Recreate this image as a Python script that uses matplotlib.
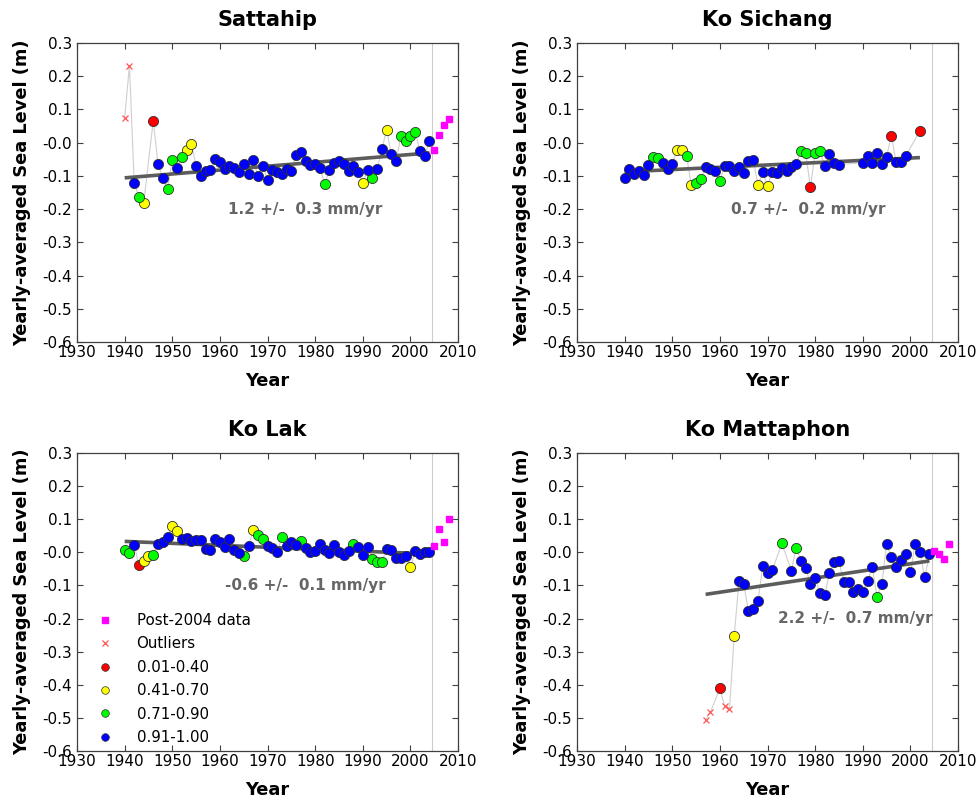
import matplotlib.pyplot as plt
from matplotlib.lines import Line2D

# class codes: x = outlier, r = 0.01-0.40, y = 0.41-0.70, g = 0.71-0.90, b = 0.91-1.00

# ---- Sattahip ----
sat_years = [1940, 1941, 1942, 1943, 1944, 1946, 1947, 1948, 1949, 1950,
             1951, 1952, 1953, 1954, 1955, 1956, 1957, 1958, 1959, 1960,
             1961, 1962, 1963, 1964, 1965, 1966, 1967, 1968, 1969, 1970,
             1971, 1972, 1973, 1974, 1975, 1976, 1977, 1978, 1979, 1980,
             1981, 1982, 1983, 1984, 1985, 1986, 1987, 1988, 1989, 1990,
             1991, 1992, 1993, 1994, 1995, 1996, 1997, 1998, 1999, 2000,
             2001, 2002, 2003, 2004]
sat_level = [0.074, 0.232, -0.120, -0.165, -0.182, 0.066, -0.064, -0.107, -0.140, -0.051,
             -0.075, -0.043, -0.021, -0.004, -0.069, -0.100, -0.085, -0.083, -0.049, -0.057,
             -0.079, -0.069, -0.076, -0.087, -0.064, -0.095, -0.051, -0.101, -0.069, -0.113,
             -0.083, -0.088, -0.095, -0.078, -0.086, -0.036, -0.027, -0.055, -0.068, -0.065,
             -0.077, -0.124, -0.083, -0.060, -0.055, -0.063, -0.084, -0.070, -0.087, -0.120,
             -0.083, -0.106, -0.080, -0.019, 0.038, -0.035, -0.056, 0.020, 0.005, 0.019,
             0.033, -0.026, -0.040, 0.005]
sat_class = "xxbgyrbbggbgyy" + "b" * 27 + "g" + "b" * 7 + "ybgbbybbggggbbb"
sat_post_years = [2005, 2006, 2007, 2008]
sat_post_level = [-0.023, 0.024, 0.054, 0.071]
sat_trend_years = [1940, 2004]
sat_trend_level = [-0.106, -0.031]

# ---- Ko Sichang ----
sic_years = [1940, 1941, 1942, 1943, 1944, 1945, 1946, 1947, 1948, 1949,
             1950, 1951, 1952, 1953, 1954, 1955, 1956, 1957, 1958, 1959,
             1960, 1961, 1962, 1963, 1964, 1965, 1966, 1967, 1968, 1969,
             1970, 1971, 1972, 1973, 1974, 1975, 1976, 1977, 1978, 1979,
             1980, 1981, 1982, 1983, 1984, 1985, 1990, 1991, 1992, 1993,
             1994, 1995, 1996, 1997, 1998, 1999, 2002]
sic_level = [-0.105, -0.079, -0.095, -0.085, -0.098, -0.067, -0.043, -0.046, -0.060, -0.080,
             -0.063, -0.023, -0.021, -0.040, -0.127, -0.121, -0.109, -0.074, -0.080, -0.084,
             -0.114, -0.070, -0.071, -0.086, -0.074, -0.090, -0.056, -0.051, -0.129, -0.089,
             -0.130, -0.088, -0.092, -0.076, -0.086, -0.074, -0.065, -0.026, -0.031, -0.134,
             -0.031, -0.025, -0.070, -0.033, -0.062, -0.066, -0.060, -0.041, -0.060, -0.032,
             -0.064, -0.042, 0.021, -0.059, -0.059, -0.041, 0.036]
sic_class = "bbbbbbggbbbyygyggbbbgbbbbbbbybybbbbbbggrggbbbbbbbbbbrbbbr"
sic_post_years = []
sic_post_level = []
sic_trend_years = [1940, 2002]
sic_trend_level = [-0.088, -0.045]

# ---- Ko Lak ----
lak_years = list(range(1940, 2005))
lak_level = [0.007, -0.003, 0.022, -0.039, -0.025, -0.012, -0.007, 0.026, 0.031, 0.045,
             0.080, 0.065, 0.039, 0.042, 0.035, 0.036, 0.038, 0.010, 0.007, 0.039,
             0.030, 0.016, 0.039, 0.007, -0.002, -0.012, 0.019, 0.067, 0.051, 0.041,
             0.019, 0.013, 0.000, 0.045, 0.019, 0.030, 0.021, 0.035, 0.012, 0.000,
             0.003, 0.024, 0.007, -0.003, 0.021, 0.000, -0.008, 0.004, 0.026, 0.017,
             -0.009, 0.016, -0.019, -0.029, -0.028, 0.009, 0.008, -0.017, -0.017, -0.012,
             -0.045, 0.004, -0.005, 0.001, 0.000]
lak_class = ("ggbryygbbbyy" + "b" * 13 + "gbyggbbbgbbbg" + "b" * 10 + "gbbbggg"
             + "b" * 5 + "y" + "b" * 4)
lak_post_years = [2005, 2006, 2007, 2008]
lak_post_level = [0.018, 0.071, 0.031, 0.101]
lak_trend_years = [1940, 2004]
lak_trend_level = [0.033, -0.005]

# ---- Ko Mattaphon ----
mat_years = [1957, 1958, 1960, 1961, 1962, 1963, 1964, 1965, 1966, 1967,
             1968, 1969, 1970, 1971, 1973, 1975, 1976, 1977, 1978, 1979,
             1980, 1981, 1982, 1983, 1984, 1985, 1986, 1987, 1988, 1989,
             1990, 1991, 1992, 1993, 1994, 1995, 1996, 1997, 1998, 1999,
             2000, 2001, 2002, 2003, 2004]
mat_level = [-0.506, -0.483, -0.411, -0.465, -0.474, -0.254, -0.087, -0.097, -0.177, -0.172,
             -0.147, -0.041, -0.063, -0.054, 0.027, -0.055, 0.014, -0.025, -0.046, -0.095,
             -0.077, -0.124, -0.130, -0.063, -0.030, -0.027, -0.090, -0.090, -0.119, -0.111,
             -0.119, -0.086, -0.044, -0.135, -0.096, 0.025, -0.014, -0.044, -0.022, -0.004,
             -0.060, 0.025, 0.000, -0.076, -0.006]
mat_class = "xxrxxy" + "b" * 8 + "gbg" + "b" * 16 + "g" + "b" * 11
mat_post_years = [2005, 2006, 2007, 2008]
mat_post_level = [0.004, -0.004, -0.021, 0.024]
mat_trend_years = [1957, 2004]
mat_trend_level = [-0.127, -0.026]

stations = [
    ("Sattahip", sat_years, sat_level, sat_class, sat_post_years, sat_post_level,
     sat_trend_years, sat_trend_level, "1.2 +/-  0.3 mm/yr", (1978, -0.20)),
    ("Ko Sichang", sic_years, sic_level, sic_class, sic_post_years, sic_post_level,
     sic_trend_years, sic_trend_level, "0.7 +/-  0.2 mm/yr", (1978.5, -0.20)),
    ("Ko Lak", lak_years, lak_level, lak_class, lak_post_years, lak_post_level,
     lak_trend_years, lak_trend_level, "-0.6 +/-  0.1 mm/yr", (1978, -0.10)),
    ("Ko Mattaphon", mat_years, mat_level, mat_class, mat_post_years, mat_post_level,
     mat_trend_years, mat_trend_level, "2.2 +/-  0.7 mm/yr", (1988.4, -0.20)),
]

class_colors = {"r": "#ff0000", "y": "#ffff00", "g": "#00ff00", "b": "#0000ff"}
class_labels = {"r": "0.01-0.40", "y": "0.41-0.70", "g": "0.71-0.90", "b": "0.91-1.00"}

x_ticks = [1930, 1940, 1950, 1960, 1970, 1980, 1990, 2000, 2010]
y_ticks = [0.3, 0.2, 0.1, 0.0, -0.1, -0.2, -0.3, -0.4, -0.5, -0.6]
y_ticklabels = ["0.3", "0.2", "0.1", "-0.0", "-0.1", "-0.2", "-0.3", "-0.4", "-0.5", "-0.6"]

plt.rcParams['font.family'] = 'DejaVu Sans'
fig = plt.figure(figsize=(9.79, 8.05), dpi=100)
positions = [
    [0.0787, 0.5752, 0.3892, 0.3714],
    [0.5894, 0.5752, 0.3892, 0.3714],
    [0.0787, 0.0671, 0.3892, 0.3702],
    [0.5894, 0.0671, 0.3892, 0.3702],
]

for i, (name, yrs, lev, cls, pyrs, plev, tyrs, tlev, rate, tpos) in enumerate(stations):
    ax = fig.add_axes(positions[i])

    # thin connecting line through the yearly values
    ax.plot(yrs, lev, color="#cfcfcf", lw=0.8, zorder=1)
    ax.axvline(2004.5, color="#cccccc", lw=0.8, zorder=0)

    # trend line
    ax.plot(tyrs, tlev, color="#5c5c5c", lw=2.6, zorder=3, solid_capstyle="butt")

    for c in "rygb":
        xs = [y for y, k in zip(yrs, cls) if k == c]
        vs = [v for v, k in zip(lev, cls) if k == c]
        ax.plot(xs, vs, "o", ms=7.3, mfc=class_colors[c], mec="#303030", mew=0.6,
                ls="none", zorder=4)
    xs = [y for y, k in zip(yrs, cls) if k == "x"]
    vs = [v for v, k in zip(lev, cls) if k == "x"]
    ax.plot(xs, vs, "x", ms=5, color="#ff5555", mew=0.9, ls="none", zorder=4)
    if pyrs:
        ax.plot(pyrs, plev, "s", ms=4.5, color="#ff00ff", ls="none", zorder=4)

    ax.text(tpos[0], tpos[1], rate, ha="center", va="center", fontsize=11,
            fontweight="bold", color="#666666")

    ax.set_xlim(1930, 2010)
    ax.set_ylim(-0.6, 0.3)
    ax.set_xticks(x_ticks)
    ax.set_yticks(y_ticks)
    ax.set_yticklabels(y_ticklabels)
    ax.tick_params(axis="both", direction="in", top=True, right=True, length=4,
                   width=0.8, color="#404040", labelsize=11)
    ax.tick_params(axis="x", pad=2)
    ax.tick_params(axis="y", pad=3.5)
    for sp in ax.spines.values():
        sp.set_color("#404040")
        sp.set_linewidth(0.9)

    ax.set_title(name, fontsize=15, fontweight="bold", pad=12)
    ax.set_xlabel("Year", fontsize=12.8, fontweight="bold", labelpad=9)
    ax.set_ylabel("Yearly-averaged Sea Level (m)", fontsize=12.8, fontweight="bold",
                  labelpad=8)

    if name == "Ko Lak":
        handles = [
            Line2D([], [], marker="s", ms=4.5, color="#ff00ff", ls="none"),
            Line2D([], [], marker="x", ms=5, color="#ff5555", mew=0.9, ls="none"),
        ]
        labels = ["Post-2004 data", "Outliers"]
        for c in "rygb":
            handles.append(Line2D([], [], marker="o", ms=5.5, mfc=class_colors[c],
                                  mec="#303030", mew=0.5, ls="none"))
            labels.append(class_labels[c])
        ax.legend(handles, labels, loc="lower left", bbox_to_anchor=(0.054, 0.02),
                  frameon=False, fontsize=10.8, handlelength=1.0, handletextpad=1.6,
                  borderpad=0, borderaxespad=0, labelspacing=0.56)

fig.savefig("out.png", dpi=100)
